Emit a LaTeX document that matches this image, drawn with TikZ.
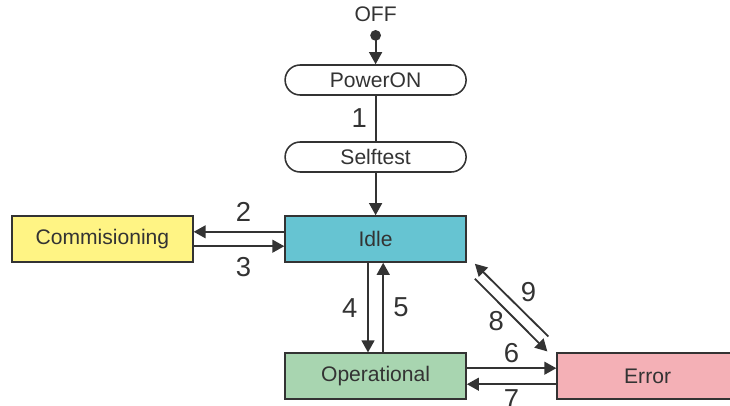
\documentclass[tikz,border=0pt]{standalone}
\usepackage{fontspec}
\setmainfont{Liberation Sans}
\usepackage{xcolor}
\usetikzlibrary{arrows.meta,calc}

\definecolor{linegray}{HTML}{333333}
\definecolor{idlecol}{HTML}{66C4D2}
\definecolor{commcol}{HTML}{FFF484}
\definecolor{opcol}{HTML}{A8D5B0}
\definecolor{errcol}{HTML}{F4B0B6}

\begin{document}
\begin{tikzpicture}[font=\fontsize{15}{18}\selectfont, text=linegray,
  box/.style={draw=linegray, line width=1.1pt, minimum width=4.525cm, minimum height=1.15cm, inner sep=0pt},
  pill/.style={box, fill=white, minimum height=0.75cm, rounded corners=0.375cm},
  link/.style={line width=1.3pt, draw=linegray},
  arr/.style={link, -{Triangle[length=0.3cm,width=0.32cm]}},
  num/.style={font=\fontsize{19.5}{22}\selectfont, inner sep=2pt}]
\useasboundingbox (0,0) rectangle (18.25,10.125);
% start point
\node (off) at (9.39,9.775) {OFF};
\coordinate (dot) at (9.39,9.24);
\fill[linegray] (dot) circle (0.135);
% states
\node[pill] (poweron) at (9.39,8.125) {PowerON};
\node[pill] (selftest) at (9.39,6.2) {Selftest};
\node[box, fill=idlecol] (idle) at (9.39,4.15) {Idle};
\node[box, fill=commcol] (comm) at (2.56,4.15) {Commisioning};
\node[box, fill=opcol] (oper) at (9.39,0.72) {Operational};
\node[box, fill=errcol] (err) at (16.19,0.72) {Error};
% transitions
\draw[arr] (dot) -- (poweron);
\draw[link] (poweron) -- node[num, left=3.5pt] {1} (selftest);
\draw[arr] (selftest) -- (idle);
\draw[arr] ([yshift=0.18cm]idle.west) -- node[num, pos=0.45, above=5pt] {2} ([yshift=0.18cm]comm.east);
\draw[arr] ([yshift=-0.18cm]comm.east) -- node[num, pos=0.55, below=5pt] {3} ([yshift=-0.18cm]idle.west);
\draw[arr] ([xshift=-0.19cm]idle.south) -- node[num, left=5pt] {4} ([xshift=-0.19cm]oper.north);
\draw[arr] ([xshift=0.19cm]oper.north) -- node[num, right=4.5pt] {5} ([xshift=0.19cm]idle.south);
\draw[arr] ([yshift=0.2cm]oper.east) -- node[num, above=1.5pt] {6} ([yshift=0.2cm]err.west);
\draw[arr] ([yshift=-0.2cm]err.west) -- node[num, below=1pt] {7} ([yshift=-0.2cm]oper.east);
\draw[arr] ([shift={(0.2,-0.4)}]idle.south east) -- node[num, xshift=-0.37cm, yshift=-0.15cm] {8} ([shift={(-0.225,0.025)}]err.north west);
\draw[arr] ([shift={(-0.2,0.4)}]err.north west) -- node[num, xshift=0.42cm, yshift=0.2cm] {9} ([shift={(0.2,-0.025)}]idle.south east);
\end{tikzpicture}
\end{document}
